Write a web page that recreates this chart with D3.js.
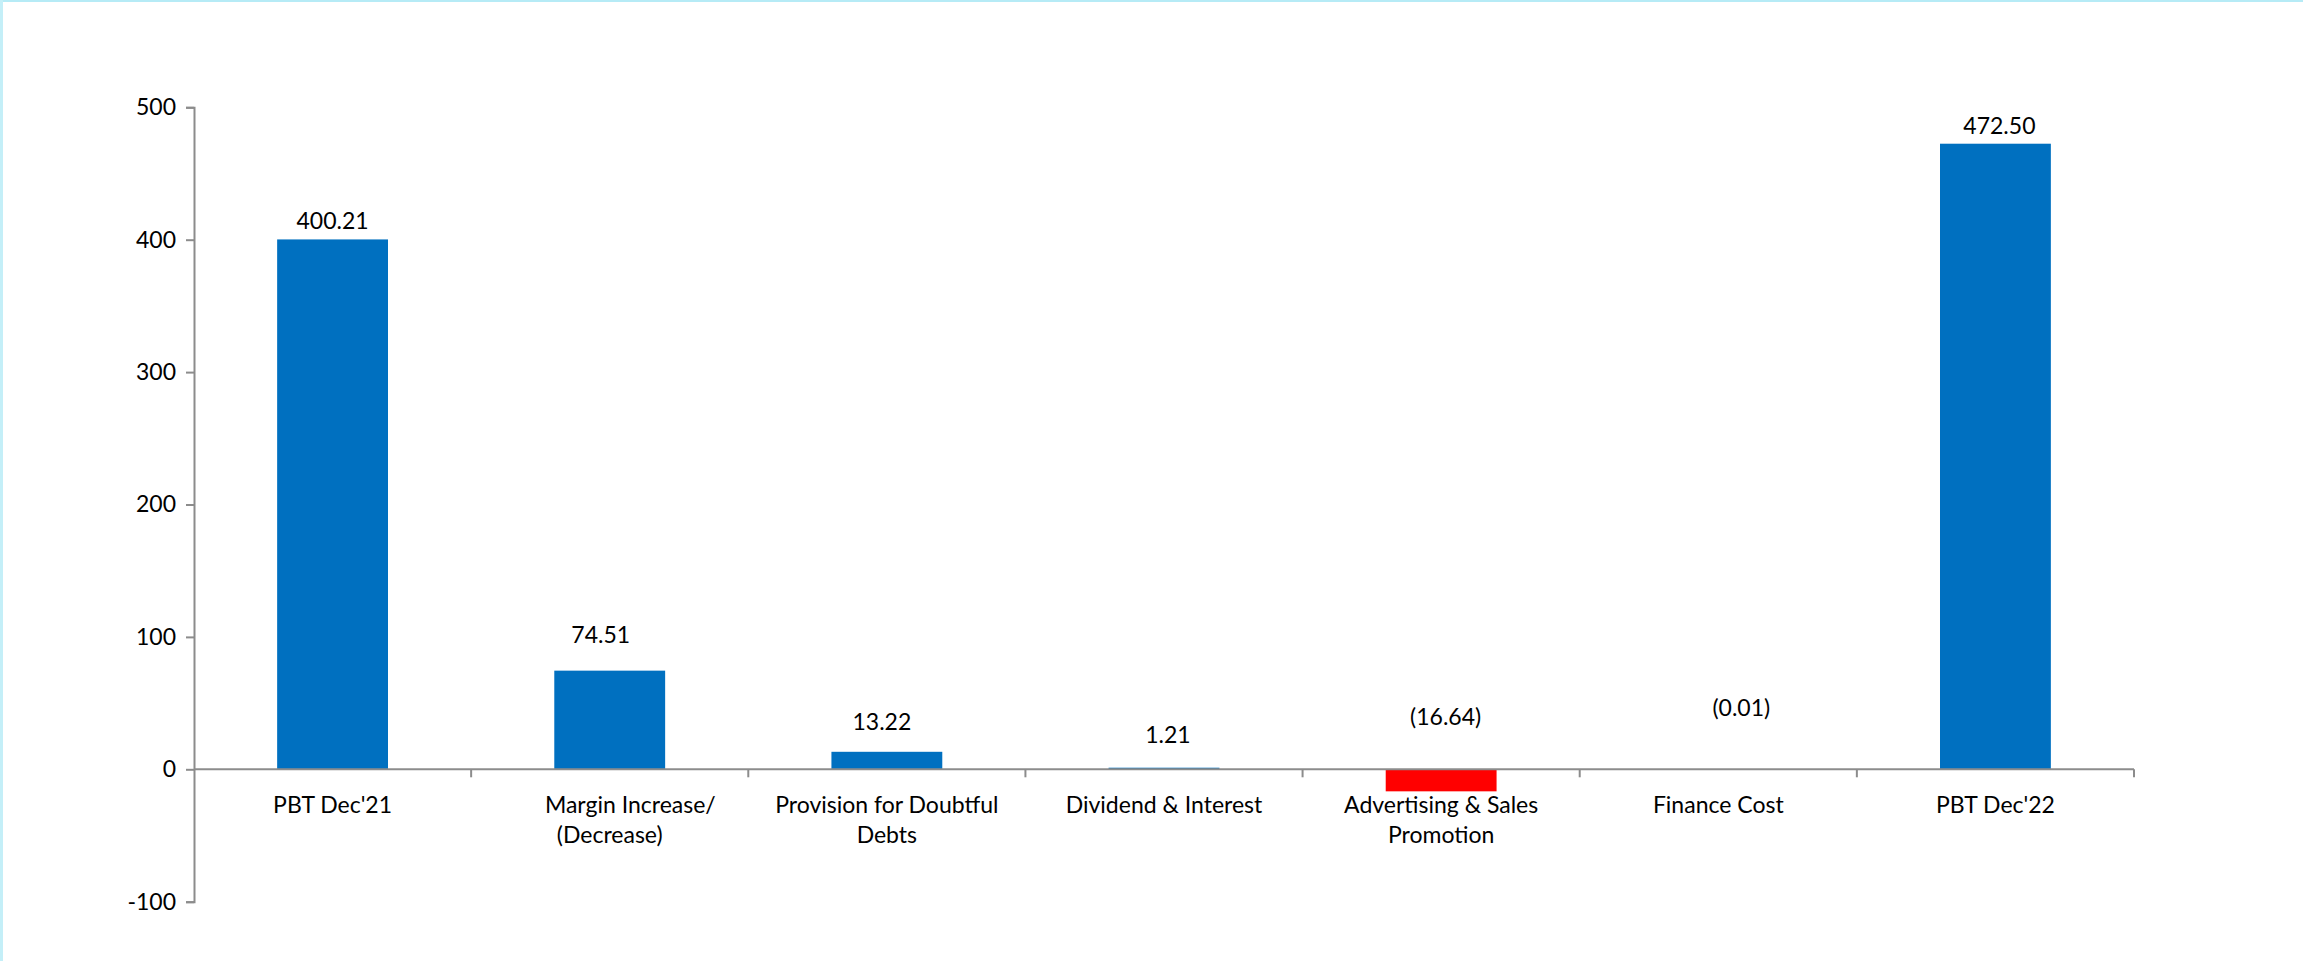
<!DOCTYPE html>
<html>
<head>
<meta charset="utf-8">
<script src="https://cdn.jsdelivr.net/npm/d3@7"></script>
<style>
  html, body { margin: 0; padding: 0; background: #ffffff; }
  svg { display: block; }
  text { font-family: Lato, "Open Sans", sans-serif; fill: #000; }
</style>
</head>
<body>
<svg id="chart" width="2303" height="961"></svg>
<script>
// PBT bridge, Dec'21 to Dec'22
const categories = [
  ["PBT Dec'21"],
  ["\u00a0\u00a0\u00a0\u00a0\u00a0\u00a0\u00a0Margin Increase/", "(Decrease)"],
  ["Provision for Doubtful", "Debts"],
  ["Dividend & Interest"],
  ["Advertising & Sales", "Promotion"],
  ["Finance Cost"],
  ["PBT Dec'22"]
];
const values = [400.21, 74.51, 13.22, 1.21, -16.64, -0.01, 472.50];
const yTicks = [-100, 0, 100, 200, 300, 400, 500];
const yTickLabels = ["-100", "0", "100", "200", "300", "400", "500"];

// hand placement of the value labels: [dx, lift above bar top] in px
const labelNudge = [[0, 10], [-9, 28], [-5, 22], [4, 25], [4.5, 44], [23, 53], [4, 9.5]];

const W = 2303, H = 961;
const margin = { left: 194, right: 169, top: 107.3, bottom: 59.3 };
const svg = d3.select("#chart");

// frame edges
svg.append("rect").attr("x", 0).attr("y", 0).attr("width", W).attr("height", 2).attr("fill", "#b6ebf6");
svg.append("rect").attr("x", 0).attr("y", 0).attr("width", 3).attr("height", H).attr("fill", "#c4eff8");

const x = d3.scaleBand()
  .domain(d3.range(values.length))
  .range([margin.left, W - margin.right])
  .paddingInner(0.6)
  .paddingOuter(0.3);

const y = d3.scaleLinear()
  .domain([-100, 500])
  .range([H - margin.bottom, margin.top]);

const axisColor = "#8c8c8c";
const fmt = d3.format(".2f");
const label = v => v < 0 ? "(" + fmt(-v) + ")" : fmt(v);

// bars
svg.append("g").selectAll("rect")
  .data(values)
  .join("rect")
  .attr("x", (d, i) => x(i))
  .attr("width", x.bandwidth())
  .attr("y", d => y(Math.max(0, d)))
  .attr("height", d => Math.abs(y(d) - y(0)))
  .attr("fill", d => d < 0 ? "#ff0000" : "#0070c0");

// y axis
const yAxis = svg.append("g")
  .attr("transform", `translate(${margin.left},0)`)
  .call(d3.axisLeft(y).tickValues(yTicks).tickSize(8).tickPadding(10)
    .tickFormat((d, i) => yTickLabels[i]));
yAxis.select(".domain").attr("stroke", axisColor).attr("stroke-width", 2);
yAxis.selectAll(".tick line").attr("stroke", axisColor).attr("stroke-width", 2);
yAxis.selectAll(".tick text").attr("font-size", 23).attr("font-family", "Lato, sans-serif").attr("fill", "#000");

// x axis along zero, ticks at band boundaries
const x0 = margin.left, x1 = W - margin.right;
const xAxis = svg.append("g");
xAxis.append("line")
  .attr("x1", x0).attr("x2", x1)
  .attr("y1", y(0)).attr("y2", y(0))
  .attr("stroke", axisColor).attr("stroke-width", 2);
const bounds = d3.range(values.length + 1).map(i => x0 + i * (x1 - x0) / values.length);
xAxis.selectAll("line.tk")
  .data(bounds.slice(1))
  .join("line")
  .attr("class", "tk")
  .attr("x1", d => d).attr("x2", d => d)
  .attr("y1", y(0)).attr("y2", y(0) + 8)
  .attr("stroke", axisColor).attr("stroke-width", 2);

// category labels
const catG = svg.append("g");
categories.forEach((lines, i) => {
  const cx = x(i) + x.bandwidth() / 2;
  const t = catG.append("text")
    .attr("x", cx)
    .attr("y", y(0) + 44)
    .attr("text-anchor", "middle")
    .attr("font-size", 23)
    .style("white-space", "pre");
  lines.forEach((ln, k) => {
    t.append("tspan").attr("x", cx).attr("dy", k === 0 ? 0 : 29.5).text(ln);
  });
});

// value labels
svg.append("g").selectAll("text")
  .data(values)
  .join("text")
  .attr("x", (d, i) => x(i) + x.bandwidth() / 2 + labelNudge[i][0])
  .attr("y", (d, i) => y(Math.max(0, d)) - labelNudge[i][1])
  .attr("text-anchor", "middle")
  .attr("font-size", 23)
  .text(d => label(d));
</script>
</body>
</html>
